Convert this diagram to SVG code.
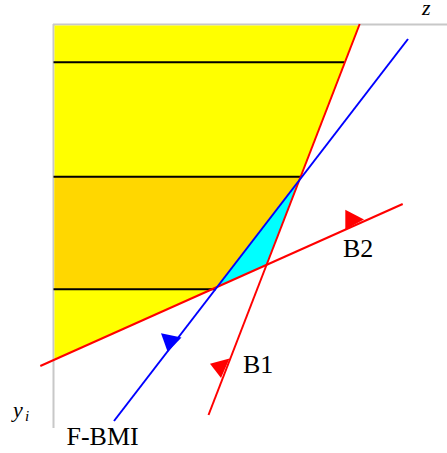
<svg xmlns="http://www.w3.org/2000/svg" width="447" height="453" viewBox="0 0 447 453">
<style>
.axis{stroke:#c8c8c8;stroke-width:2;fill:none}
.hl{stroke:#000;stroke-width:2;fill:none}
.red{stroke:#ff0000;stroke-width:2;fill:none}
.blue{stroke:#0000ff;stroke-width:2;fill:none}
.lbl{font-family:"Liberation Serif","Times New Roman",serif;font-size:26px;fill:#000}
.it{font-family:"Liberation Serif","Times New Roman",serif;font-style:italic;fill:#000}
</style>
<rect width="447" height="453" fill="#fff"/>
<g id="axes">
<line class="axis" x1="53.5" y1="24" x2="53.5" y2="428"/>
<line class="axis" x1="53" y1="24.5" x2="447" y2="24.5"/>
</g>
<g id="regions">
<polygon fill="#ffff00" points="54.5,25.5 359.4,25.5 299.4,180.4 217.6,286.7 54.5,359.8"/>
<polygon fill="#ffd700" points="54.5,177 300.7,177 299.4,180.4 215.8,289.3 54.5,289.3"/>
<polygon fill="#00ffff" points="299.4,180.4 266.7,264.8 217.6,286.7"/>
</g>
<g id="levels">
<line class="hl" x1="53.5" y1="62.2" x2="344.5" y2="62.2"/>
<line class="hl" x1="53.5" y1="176.8" x2="300.5" y2="176.8"/>
<line class="hl" x1="53.5" y1="289.3" x2="216" y2="289.3"/>
</g>
<g id="connectors">
<line id="B1-line" class="red" x1="359.7" y1="24" x2="208.5" y2="415"/>
<line id="B2-line" class="red" x1="40.3" y1="366" x2="402.7" y2="204"/>
<line id="FBMI-line" class="blue" x1="408" y1="39" x2="114" y2="421"/>
<polygon fill="#ff0000" points="345.3,209.7 345.3,229.5 364,219.5"/>
<polygon fill="#ff0000" points="210,363.7 229.5,358.5 221,378"/>
<polygon fill="#0000ff" points="161,333.3 181.5,337.5 167.7,352"/>
</g>
<g id="labels">
<text class="it" x="422" y="15" font-size="22">z</text>
<text class="it" x="13" y="417" font-size="22">y</text>
<text class="it" x="25" y="421" font-size="15">i</text>
<text class="lbl" x="66.5" y="445">F-BMI</text>
<text class="lbl" x="243" y="373">B1</text>
<text class="lbl" x="343" y="256.5">B2</text>
</g>
</svg>
